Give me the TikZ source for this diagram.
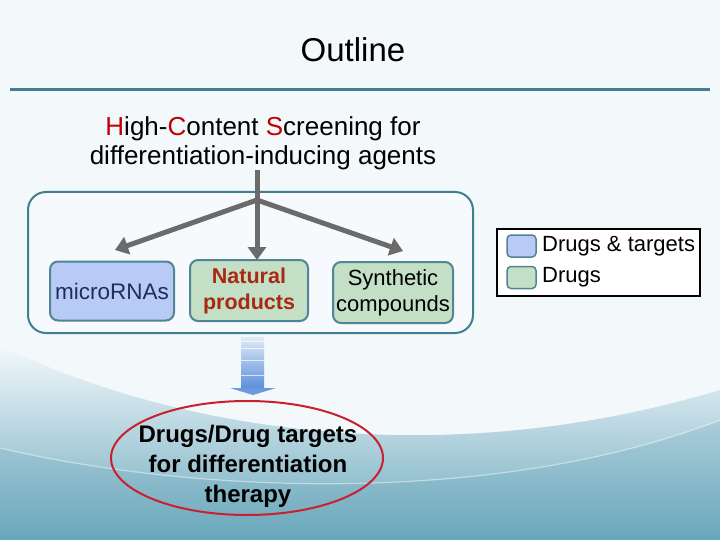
\documentclass[tikz,border=0pt]{standalone}
\usepackage{fontspec}
\setmainfont{Liberation Sans}
\usetikzlibrary{arrows.meta,shapes.geometric}
\definecolor{bgc}{HTML}{F3F8FB}
\definecolor{teal1}{HTML}{3F7F8F}
\definecolor{boxline}{HTML}{4F8595}
\definecolor{bluefill}{HTML}{B8CBF7}
\definecolor{greenfill}{HTML}{C3DFC6}
\definecolor{arrgray}{HTML}{6B6B6B}
\definecolor{darkred}{HTML}{C00000}
\definecolor{natred}{HTML}{A82A12}
\definecolor{navy}{HTML}{1F2D5C}
\definecolor{ellred}{HTML}{C8202E}
\definecolor{wavebot}{HTML}{6CA9BD}
\definecolor{wavemid}{HTML}{5E9FB5}
\definecolor{arrlight}{HTML}{E0EBF8}
\definecolor{arrdark}{HTML}{5A8EDA}
\begin{document}
\begin{tikzpicture}[x=1pt,y=-1pt,
  catbox/.style={draw=boxline,line width=2pt,rounded corners=8pt,inner sep=0pt,align=center,
    font=\fontsize{22}{26}\selectfont},
  swatch/.style={draw=boxline,line width=1.5pt,rounded corners=4pt,minimum width=29pt,minimum height=22pt,inner sep=0pt},
  legtext/.style={anchor=west,inner sep=0pt,font=\fontsize{22}{26}\selectfont},
  grayarrow/.style={draw=arrgray,line width=5pt,-{Triangle[width=18pt,length=13pt]}},
]
\useasboundingbox (0,0) rectangle (720,540);
% background
\fill[bgc] (0,0) rectangle (720,540);
\shade[top color=bgc,bottom color=wavebot] (0,345) .. controls (150,420) and (420,480) .. (720,390) -- (720,540) -- (0,540) -- cycle;
\fill[wavemid,opacity=0.2] (0,448) .. controls (200,495) and (500,505) .. (720,420) -- (720,540) -- (0,540) -- cycle;
\draw[white,opacity=0.45,line width=1.2pt] (0,448) .. controls (200,495) and (500,505) .. (720,420);
% title
\node[font=\fontsize{33}{38}\selectfont] (title) at (353,50) {Outline};
\draw[teal1,line width=3pt] (10,90) -- (710,90);
% heading
\node[inner sep=0pt,align=center,font=\fontsize{26}{29}\selectfont] (hcs) at (263,143.5)
  {\textcolor{darkred}{H}igh-\textcolor{darkred}{C}ontent \textcolor{darkred}{S}creening for\\differentiation-inducing agents};
% big container
\draw[teal1,line width=2pt,fill=white,fill opacity=0.4,rounded corners=18pt] (28,192) rectangle (473,333);
% categories
\node[catbox,fill=bluefill,minimum width=124pt,minimum height=59pt,text=navy,font=\fontsize{22.5}{26}\selectfont] (mirna) at (112,291) {microRNAs};
\node[catbox,fill=greenfill,minimum width=118pt,minimum height=61pt,text=natred,font=\bfseries\fontsize{21.5}{26}\selectfont] (nat) at (249,290.5) {Natural\\products};
\node[catbox,fill=greenfill,minimum width=120pt,minimum height=61pt] (syn) at (393,292.5) {Synthetic\\compounds};
% connectors
\coordinate (j) at (257,200);
\coordinate (tipL) at (115,250);
\coordinate (tipM) at (257,260);
\coordinate (tipR) at (403,251);
\draw[arrgray,line width=5pt] (hcs.south -| j) -- (j);
\draw[grayarrow] (j) -- (tipL);
\draw[grayarrow] (j) -- (tipM);
\draw[grayarrow] (j) -- (tipR);
% legend
\node[draw=black,line width=1.5pt,fill=white,minimum width=203pt,minimum height=67pt,inner sep=0pt] (leg) at (598.5,262.5) {};
\node[swatch,fill=bluefill] (sw1) at (521.5,246) {};
\node[swatch,fill=greenfill] (sw2) at (521.5,277.5) {};
\node[legtext] (l1) at (542,246) {Drugs \& targets};
\node[legtext] (l2) at (542,277) {Drugs};
% block arrow
\shade[top color=arrlight,bottom color=arrdark] (241,337) rectangle (264,389);
\foreach \yy in {341,348,360,375}
  \draw[white,opacity=0.7,line width=0.8pt] (241,\yy) -- (264,\yy);
\fill[arrdark!90!white] (230,388) -- (276,388) -- (253,395) -- cycle;
% goal
\node[draw=ellred,line width=2pt,ellipse,minimum width=272pt,minimum height=114pt,inner sep=0pt] (ell) at (247,458) {};
\node[inner sep=0pt,align=center,font=\bfseries\fontsize{24}{30}\selectfont] (goal) at (248,466)
  {Drugs/Drug targets\\for differentiation\\therapy};
\end{tikzpicture}
\end{document}
